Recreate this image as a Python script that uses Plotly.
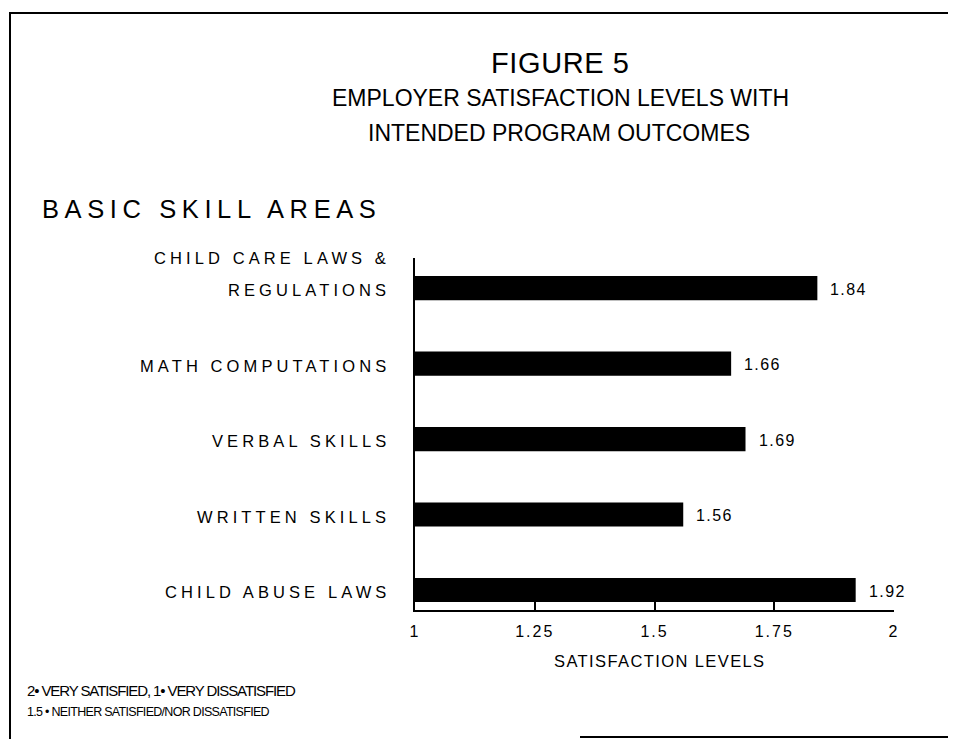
import plotly.graph_objects as go

# ---- data ----
categories = ["CHILD ABUSE LAWS", "WRITTEN SKILLS", "VERBAL SKILLS",
              "MATH COMPUTATIONS", "CHILD CARE LAWS &<br>REGULATIONS"]
values = [1.92, 1.56, 1.69, 1.66, 1.84]
tick_vals = [1, 1.25, 1.5, 1.75, 2]
tick_text = ["1", "1.25", "1.5", "1.75", "2"]

# page has an 8px body margin on every side; keep the figure inside the window
OFF = 8
W, H = 956 - 2 * OFF, 747 - 2 * OFF
ML, MT = 415 - OFF, 258 - OFF
PW, PH = 479, 352
MR, MB = W - ML - PW, H - MT - PH
FONT = "Liberation Sans, Arial, Helvetica, sans-serif"


def px(x):
    """reference-image x pixel -> paper coordinate"""
    return (x - OFF - ML) / PW


def py(y):
    """reference-image y pixel -> paper coordinate"""
    return (MT + PH - (y - OFF)) / PH


def sp(t, s):
    return f'<span style="letter-spacing:{s}px">{t}</span>'


fig = go.Figure()
fig.add_trace(go.Bar(
    x=values, y=categories, orientation="h",
    marker=dict(color="black", line=dict(width=0)),
    width=0.32, showlegend=False, hoverinfo="x+y",
))

ann = []
# value labels
for c, v in zip(categories, values):
    ann.append(dict(x=v, y=c, xref="x", yref="y", text=sp(f"{v:.2f}", 1.4),
                    showarrow=False, xanchor="left", xshift=11, yshift=-1,
                    font=dict(size=16, color="black", family=FONT)))
# category labels (multi-line ones: last line level with the bar)
for c in categories:
    parts = c.split("<br>")
    n = len(parts)
    for i, part in enumerate(parts):
        ann.append(dict(x=px(392), y=c, xref="paper", yref="y",
                        text=sp(part, 4.1),
                        showarrow=False, xanchor="right", align="right",
                        yshift=(n - 1 - i) * 32 - 2,
                        font=dict(size=16.5, color="black", family=FONT)))

# titles and notes
texts = [
    ("FIGURE 5", 560, 63, 29, "center", 0.6),
    ("EMPLOYER SATISFACTION LEVELS WITH", 560, 98, 23, "center", 0),
    ("INTENDED PROGRAM OUTCOMES", 559, 133, 23, "center", 0),
    ("BASIC SKILL AREAS", 40, 209, 25.5, "left", 5.6),
    ("SATISFACTION LEVELS", 660, 661, 16.5, "center", 1.4),
    ("2• VERY SATISFIED, 1• VERY DISSATISFIED", 25, 690, 15, "left", -1.1),
    ("1.5 • NEITHER SATISFIED/NOR DISSATISFIED", 25, 712, 12.5, "left", -0.7),
]
for t, x, y, s, a, ls in texts:
    ann.append(dict(x=px(x), y=py(y), xref="paper", yref="paper",
                    text=sp(t, ls) if ls else t,
                    showarrow=False, xanchor=a, yanchor="middle",
                    font=dict(size=s, color="black", family=FONT)))

shapes = [
    dict(type="line", xref="paper", yref="paper", x0=px(10), x1=px(10),
         y0=py(12), y1=py(747), line=dict(color="black", width=2)),
    dict(type="line", xref="paper", yref="paper", x0=px(10), x1=px(956),
         y0=py(13), y1=py(13), line=dict(color="black", width=2)),
    dict(type="line", xref="paper", yref="paper", x0=px(580), x1=px(956),
         y0=py(737), y1=py(737), line=dict(color="black", width=2)),
]

fig.update_layout(
    width=W, height=H,
    margin=dict(l=ML, r=MR, t=MT, b=MB),
    paper_bgcolor="white", plot_bgcolor="white",
    font=dict(family=FONT, color="black"),
    annotations=ann, shapes=shapes,
)
fig.update_xaxes(range=[1, 2], tickvals=tick_vals,
                 ticktext=[sp(t, 2) for t in tick_text],
                 ticks="inside", ticklen=8, tickwidth=1.5, tickcolor="black",
                 ticklabelstandoff=6,
                 showline=True, linecolor="black", linewidth=2,
                 showgrid=False, zeroline=False,
                 tickfont=dict(size=16, family=FONT, color="black"))
fig.update_yaxes(range=[-0.265, 4.4], showticklabels=False, ticks="",
                 showline=True, linecolor="black", linewidth=2,
                 showgrid=False, zeroline=False)

fig.write_html("out.html")
